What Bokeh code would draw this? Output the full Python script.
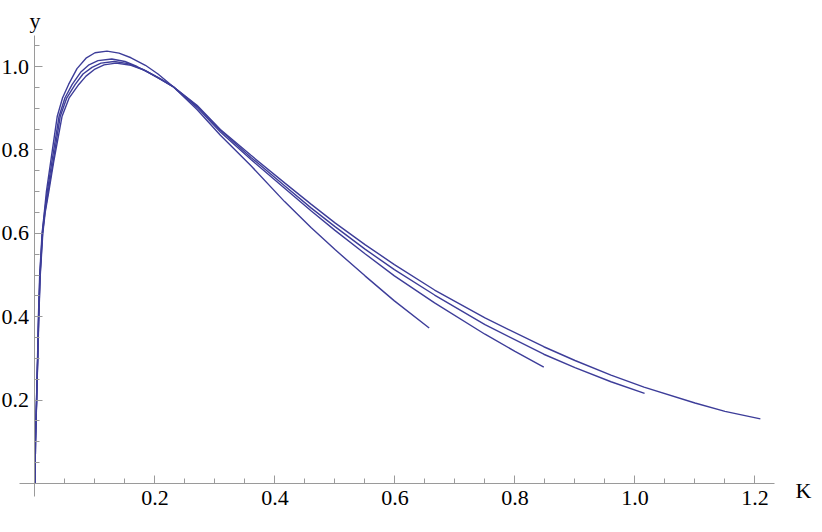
from bokeh.plotting import figure
from bokeh.models import FixedTicker, Label, Range1d, LinearAxis
from bokeh.embed import file_html
from bokeh.resources import INLINE

# ---- data ----
x1 = [0, 0.0008, 0.0025, 0.0042, 0.0057, 0.0078, 0.0118, 0.0155, 0.019, 0.026, 0.037, 0.046, 0.056, 0.07, 0.085,
      0.1, 0.12, 0.14, 0.16, 0.184, 0.205, 0.23, 0.27, 0.309, 0.36, 0.416, 0.46, 0.5, 0.55, 0.599, 0.657]
y1 = [0, 0.1, 0.2, 0.3, 0.4, 0.5, 0.6, 0.65, 0.7, 0.77, 0.88, 0.925, 0.957, 0.995, 1.02,
      1.033, 1.037, 1.032, 1.021, 1.003, 0.982, 0.952, 0.897, 0.835, 0.762, 0.676, 0.614, 0.561, 0.498, 0.438, 0.373]

x2 = [0, 0.0008, 0.0026, 0.0044, 0.006, 0.0082, 0.0122, 0.016, 0.0205, 0.028, 0.040, 0.050, 0.062, 0.076, 0.09,
      0.105, 0.128, 0.15, 0.17, 0.19, 0.21, 0.23, 0.27, 0.309, 0.36, 0.416, 0.46, 0.5, 0.55, 0.599, 0.666, 0.75,
      0.8, 0.848]
y2 = [0, 0.1, 0.2, 0.3, 0.4, 0.5, 0.6, 0.65, 0.7, 0.77, 0.88, 0.925, 0.957, 0.986, 1.004,
      1.014, 1.018, 1.012, 1.0, 0.985, 0.969, 0.952, 0.902, 0.843, 0.777, 0.708, 0.654, 0.607, 0.551, 0.498, 0.433, 0.358,
      0.317, 0.279]

x3 = [0, 0.0008, 0.0027, 0.0045, 0.0062, 0.0085, 0.0126, 0.0165, 0.022, 0.030, 0.042, 0.053, 0.067, 0.08, 0.095,
      0.11, 0.132, 0.155, 0.18, 0.205, 0.23, 0.27, 0.309, 0.36, 0.416, 0.46, 0.5, 0.55, 0.599, 0.666, 0.75,
      0.848, 0.9, 0.96, 1.016]
y3 = [0, 0.1, 0.2, 0.3, 0.4, 0.5, 0.6, 0.65, 0.7, 0.77, 0.88, 0.925, 0.957, 0.982, 0.998,
      1.008, 1.012, 1.007, 0.993, 0.974, 0.952, 0.905, 0.847, 0.782, 0.714, 0.661, 0.616, 0.562, 0.513, 0.452, 0.381,
      0.310, 0.278, 0.244, 0.216]

x4 = [0, 0.0008, 0.0028, 0.0046, 0.0064, 0.0088, 0.013, 0.017, 0.023, 0.031, 0.045, 0.057, 0.073, 0.085, 0.1,
      0.115, 0.135, 0.16, 0.184, 0.205, 0.23, 0.27, 0.309, 0.36, 0.416, 0.46, 0.5, 0.55, 0.599, 0.666, 0.75,
      0.848, 0.9, 0.96, 1.015, 1.1, 1.15, 1.209]
y4 = [0, 0.1, 0.2, 0.3, 0.4, 0.5, 0.6, 0.65, 0.7, 0.77, 0.88, 0.925, 0.957, 0.977, 0.994,
      1.004, 1.008, 1.003, 0.99, 0.973, 0.952, 0.907, 0.849, 0.787, 0.721, 0.670, 0.625, 0.573, 0.525, 0.464, 0.397,
      0.328, 0.295, 0.260, 0.231, 0.193, 0.173, 0.155]

curves = [(x1, y1), (x2, y2), (x3, y3), (x4, y4)]

x_major = [0.2, 0.4, 0.6, 0.8, 1.0, 1.2]
x_major_labels = ["0.2", "0.4", "0.6", "0.8", "1.0", "1.2"]
x_minor = [0.05, 0.1, 0.15, 0.25, 0.3, 0.35, 0.45, 0.5, 0.55, 0.65, 0.7, 0.75, 0.85, 0.9, 0.95,
           1.05, 1.1, 1.15]
y_major = [0.2, 0.4, 0.6, 0.8, 1.0]
y_major_labels = ["0.2", "0.4", "0.6", "0.8", "1.0"]
y_minor = [0.05, 0.1, 0.15, 0.25, 0.3, 0.35, 0.45, 0.5, 0.55, 0.65, 0.7, 0.75, 0.85, 0.9, 0.95, 1.05]

x_label = "K"
y_label = "y"

# ---- styling ----
LINE = "#3d3d99"
AXIS = "#9a9a9a"
FONT = "Liberation Serif"
FS = "22px"

p = figure(width=814, height=516, output_backend="svg", toolbar_location=None,
           x_range=Range1d(-0.0575, 1.2992), y_range=Range1d(-0.0791, 1.1583),
           x_axis_location=None, y_axis_location=None, min_border=0)
p.outline_line_color = None
p.background_fill_color = "white"
p.border_fill_color = "white"
for g in list(p.grid):
    g.visible = False

xaxis = LinearAxis(fixed_location=0, bounds=(-0.025, 1.2333),
                   ticker=FixedTicker(ticks=x_major, minor_ticks=x_minor),
                   major_label_overrides={t: s for t, s in zip(x_major, x_major_labels)},
                   axis_line_color=AXIS, major_tick_line_color=AXIS, minor_tick_line_color=AXIS,
                   major_tick_in=8, major_tick_out=0, minor_tick_in=5, minor_tick_out=0,
                   major_label_text_font=FONT, major_label_text_font_size=FS,
                   major_label_text_color="black", major_label_standoff=7)
yaxis = LinearAxis(fixed_location=0, bounds=(-0.031, 1.075),
                   ticker=FixedTicker(ticks=y_major, minor_ticks=y_minor),
                   major_label_overrides={t: s for t, s in zip(y_major, y_major_labels)},
                   axis_line_color=AXIS, major_tick_line_color=AXIS, minor_tick_line_color=AXIS,
                   major_tick_in=8, major_tick_out=0, minor_tick_in=5, minor_tick_out=0,
                   major_label_text_font=FONT, major_label_text_font_size=FS,
                   major_label_text_color="black", major_label_standoff=6)
p.add_layout(xaxis, "below")
p.add_layout(yaxis, "left")

for xs, ys in curves:
    p.line(xs, ys, line_color=LINE, line_width=1.4)

p.add_layout(Label(x=0, y=1.1103, text=y_label, text_align="center", text_baseline="alphabetic",
                   text_font=FONT, text_font_size=FS, text_color="black"))
p.add_layout(Label(x=1.2675, y=-0.0158, text=x_label, text_align="left", text_baseline="alphabetic",
                   text_font=FONT, text_font_size=FS, text_color="black"))

open("out.html", "w").write(file_html(p, INLINE))
